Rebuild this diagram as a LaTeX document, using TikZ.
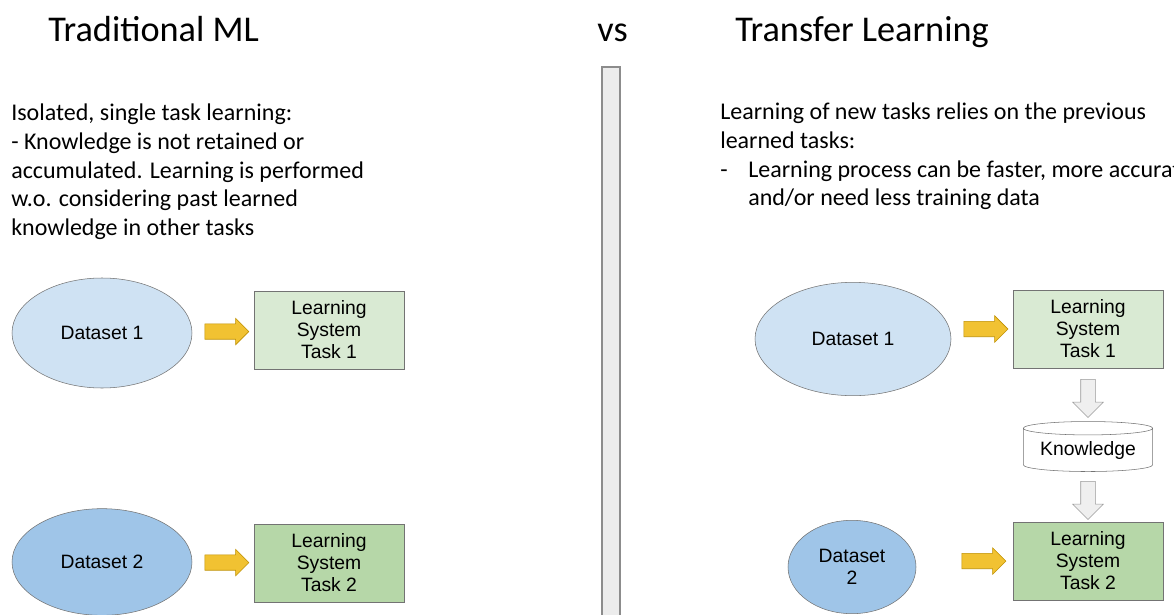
\documentclass[tikz,border=0pt]{standalone}
\usepackage{fontspec}
\setmainfont{Carlito}
\newfontfamily\boxfont{Liberation Sans}
\usepackage{xcolor}
\usetikzlibrary{shapes,arrows,positioning,calc,shapes.geometric,shapes.arrows}

\definecolor{dsLight}{HTML}{CFE2F3}
\definecolor{dsDark}{HTML}{9FC5E8}
\definecolor{lsLight}{HTML}{D9EAD3}
\definecolor{lsDark}{HTML}{B6D7A8}
\definecolor{arrYellow}{HTML}{F1C232}
\definecolor{arrYellowEdge}{HTML}{BF9000}
\definecolor{arrGray}{HTML}{EFEFEF}
\definecolor{barGray}{HTML}{ECECEC}

\tikzset{
    dataset/.style={ellipse, draw=gray!90!black, fill=#1, inner sep=0pt, align=center,
        font=\boxfont\fontsize{14.5}{16.5}\selectfont},
    learnbox/.style={rectangle, draw=gray!90!black, fill=#1, align=center,
        minimum width=112.5pt, minimum height=58.5pt, inner sep=0pt,
        font=\boxfont\fontsize{14.5}{16.5}\selectfont},
    yarrow/.style={single arrow, draw=arrYellowEdge, fill=arrYellow, inner sep=5.6pt,
        minimum width=19.5pt, minimum height=33pt, single arrow head extend=4.1pt},
    garrow/.style={single arrow, draw=gray!80, fill=arrGray, inner sep=5.25pt,
        shape border rotate=270, minimum width=22.5pt, minimum height=28.5pt,
        single arrow head extend=6pt},
    headline/.style={font=\fontsize{27.2}{32}\selectfont, anchor=base west, inner sep=0pt},
    bodytext/.style={font=\fontsize{18}{21.4}\selectfont, align=left, anchor=north west, inner sep=0pt}
}

\begin{document}
\begin{tikzpicture}[x=0.75pt,y=-0.75pt]
    \useasboundingbox (0,0) rectangle (1174,614);
    \clip (0,0) rectangle (1174,614);
    \fill[white] (0,0) rectangle (1174,614);

    % Titles
    \node[headline] (tradTitle) at (48,41) {Traditional ML};
    \node[headline] (vsTitle) at (597,41) {vs};
    \node[headline] (tlTitle) at (735,41) {Transfer Learning};

    % Divider
    \draw[draw=gray!90, fill=barGray, line width=1.2pt] (602,620) -- (602,67) -- (620,67) -- (620,620);

    % Descriptions
    \node[bodytext] (tradText) at (11,104) {Isolated, single task learning:\\
        - Knowledge is not retained or\\
        accumulated. Learning is performed\\
        w.o. considering past learned\\
        knowledge in other tasks};
    \node[bodytext] (tlText) at (720,103) {Learning of new tasks relies on the previous\\
        learned tasks:\\
        \makebox[21pt][l]{-}Learning process can be faster, more accurate\\
        \hspace*{21pt}and/or need less training data};

    % Traditional ML
    \node[dataset=dsLight, minimum width=135pt, minimum height=82.5pt] (tradDs1) at (102,333) {Dataset 1};
    \node[learnbox=lsLight] (tradLs1) at (329,330) {Learning\\System\\Task 1};
    \node[yarrow] (tradArr1) at ($(tradDs1.east)!0.5!(tradLs1.west)$) {};

    \node[dataset=dsDark, minimum width=135pt, minimum height=80pt] (tradDs2) at (102,562) {Dataset 2};
    \node[learnbox=lsDark] (tradLs2) at (329,563) {Learning\\System\\Task 2};
    \node[yarrow] (tradArr2) at ($(tradDs2.east)!0.5!(tradLs2.west)$) {};

    % Transfer Learning
    \node[dataset=dsLight, minimum width=147pt, minimum height=85pt] (tlDs1) at (853,339) {Dataset 1};
    \node[learnbox=lsLight] (tlLs1) at (1088,329) {Learning\\System\\Task 1};
    \node[yarrow] (tlArr1) at ($(tlDs1.east |- tlLs1.west)!0.5!(tlLs1.west)$) {};

    \node[cylinder, shape border rotate=90, aspect=0.14, draw=gray!90!black, fill=white,
        minimum width=97pt, minimum height=37.5pt, inner sep=0pt,
        font=\boxfont\fontsize{14.5}{16.5}\selectfont] (know) at (1088,450) {Knowledge};
    \node[garrow] (tlArrK1) at ($(tlLs1.south)!0.5!(know.north)$) {};

    \node[learnbox=lsDark] (tlLs2) at (1088,561) {Learning\\System\\Task 2};
    \node[garrow] (tlArrK2) at ($(know.south)!0.5!(tlLs2.north)$) {};

    \node[dataset=dsDark, minimum width=96pt, minimum height=70pt] (tlDs2) at (852,567) {Dataset\\2};
    \node[yarrow] (tlArr2) at (980,561) {};
\end{tikzpicture}
\end{document}
